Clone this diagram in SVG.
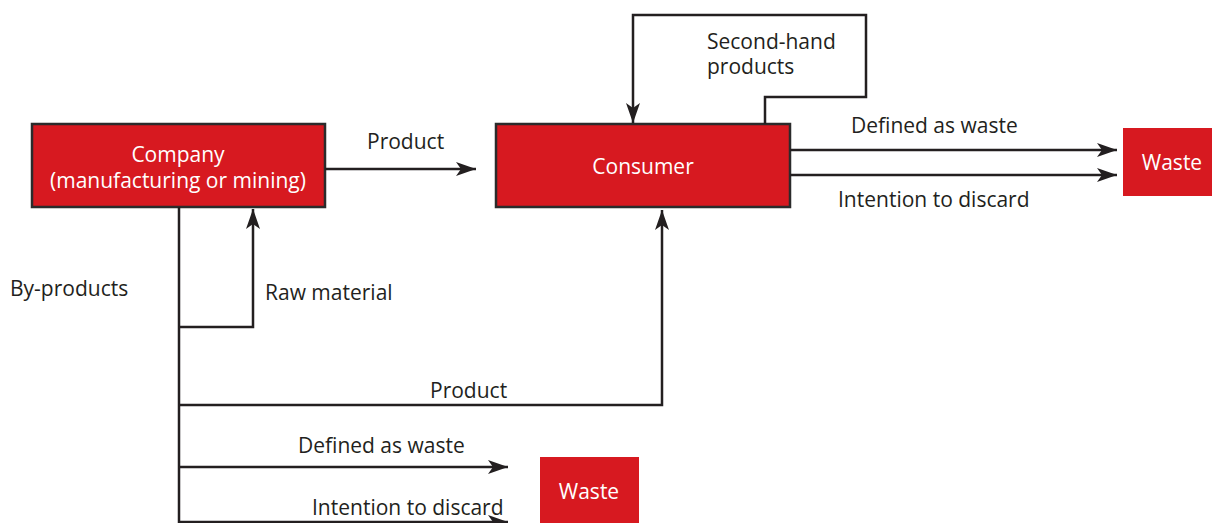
<svg xmlns="http://www.w3.org/2000/svg" width="1212" height="523" viewBox="0 0 1212 523">
  <style>
    .box { fill: #d71920; stroke: #2b2b2b; stroke-width: 2.5; }
    .waste { fill: #d71920; }
    .lbl { font-family: "Open Sans", "Liberation Sans", sans-serif; font-size: 21px; fill: #231f20; }
    .in { font-family: "Open Sans", "Liberation Sans", sans-serif; font-size: 21px; fill: #ffffff; text-anchor: middle; }
    .wire { fill: none; stroke: #231f20; stroke-width: 2.5; }
  </style>
  <defs>
    <marker id="arrow" viewBox="0 0 20 14" refX="20" refY="7" markerWidth="20" markerHeight="14" markerUnits="userSpaceOnUse" orient="auto">
      <path d="M0,0 L20,7 L0,14 L5,7 Z" fill="#231f20"/>
    </marker>
  </defs>

  <g id="company">
    <rect class="box" x="32" y="124" width="293" height="83"/>
    <text class="in" x="178" y="162">Company</text>
    <text class="in" x="178" y="188">(manufacturing or mining)</text>
  </g>

  <g id="consumer">
    <rect class="box" x="496" y="124" width="294" height="83"/>
    <text class="in" x="643" y="174">Consumer</text>
  </g>

  <g id="waste-consumer">
    <rect class="waste" x="1123" y="128" width="89" height="68"/>
    <text class="in" x="1172" y="170">Waste</text>
  </g>

  <g id="waste-company">
    <rect class="waste" x="540" y="457" width="99" height="66"/>
    <text class="in" x="589" y="499">Waste</text>
  </g>

  <g id="connectors">
    <!-- company to consumer -->
    <path class="wire" d="M325,169 H476" marker-end="url(#arrow)"/>
    <!-- second-hand loop -->
    <path class="wire" d="M765,124 V97 H866 V15 H633 V123" marker-end="url(#arrow)"/>
    <!-- consumer to waste -->
    <path class="wire" d="M790,150 H1117" marker-end="url(#arrow)"/>
    <path class="wire" d="M790,175 H1117" marker-end="url(#arrow)"/>
    <!-- by-products trunk -->
    <path class="wire" d="M179,207 V523"/>
    <!-- raw material loop back -->
    <path class="wire" d="M179,327 H253 V209" marker-end="url(#arrow)"/>
    <!-- by-product to consumer -->
    <path class="wire" d="M179,405 H662 V210" marker-end="url(#arrow)"/>
    <!-- by-products to waste -->
    <path class="wire" d="M179,467 H508" marker-end="url(#arrow)"/>
    <path class="wire" d="M179,522 H508" marker-end="url(#arrow)"/>
  </g>

  <g id="labels">
    <text class="lbl" x="367" y="149">Product</text>
    <text class="lbl" x="707" y="49">Second-hand</text>
    <text class="lbl" x="707" y="74">products</text>
    <text class="lbl" x="851" y="133">Defined as waste</text>
    <text class="lbl" x="838" y="207">Intention to discard</text>
    <text class="lbl" x="10" y="296">By-products</text>
    <text class="lbl" x="265" y="300">Raw material</text>
    <text class="lbl" x="430" y="398">Product</text>
    <text class="lbl" x="298" y="453">Defined as waste</text>
    <text class="lbl" x="312" y="515">Intention to discard</text>
  </g>
</svg>
